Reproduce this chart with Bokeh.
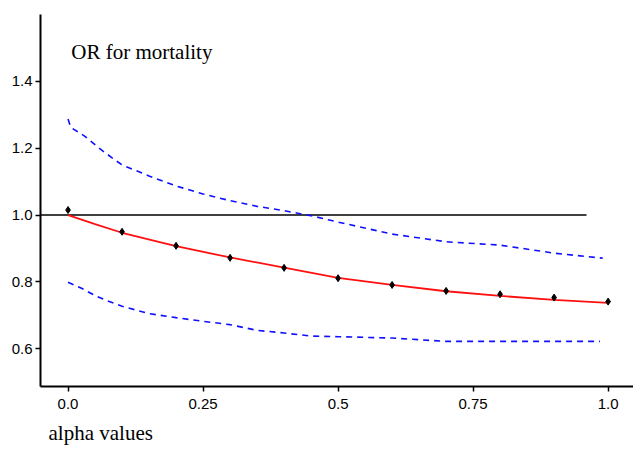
from bokeh.plotting import figure
from bokeh.models import Range1d, FixedTicker, Label, Title
from bokeh.embed import file_html
from bokeh.resources import INLINE

alpha = [0.0, 0.1, 0.2, 0.3, 0.4, 0.5, 0.6, 0.7, 0.8, 0.9, 1.0]
or_points = [1.015, 0.950, 0.908, 0.872, 0.842, 0.811, 0.791, 0.773, 0.763, 0.753, 0.741]
fit_x = [0.0, 0.05, 0.1, 0.2, 0.3, 0.4, 0.5, 0.6, 0.7, 0.8, 0.9, 1.0]
or_fit = [1.000, 0.973, 0.947, 0.907, 0.873, 0.843, 0.812, 0.791, 0.772, 0.758, 0.746, 0.737]
upper_x = [0.0, 0.005, 0.03, 0.06, 0.085, 0.1, 0.15, 0.2, 0.25, 0.3, 0.35, 0.4, 0.45, 0.5,
           0.6, 0.7, 0.8, 0.9, 0.99]
upper_ci = [1.287, 1.262, 1.237, 1.197, 1.167, 1.150, 1.117, 1.087, 1.063, 1.043, 1.026, 1.013,
            0.998, 0.979, 0.943, 0.920, 0.910, 0.886, 0.871]
lower_x = [0.0, 0.025, 0.05, 0.075, 0.1, 0.15, 0.2, 0.25, 0.3, 0.35, 0.4, 0.45, 0.5, 0.6,
           0.7, 0.8, 0.9, 0.985]
lower_ci = [0.799, 0.781, 0.759, 0.742, 0.727, 0.705, 0.693, 0.682, 0.672, 0.655, 0.647, 0.638,
            0.636, 0.632, 0.622, 0.622, 0.622, 0.622]
ref_x = [-0.051, 0.96]
ref_y = [1.0, 1.0]
x_ticks = [0.0, 0.25, 0.5, 0.75, 1.0]
x_tick_labels = ["0.0", "0.25", "0.5", "0.75", "1.0"]
y_ticks = [0.6, 0.8, 1.0, 1.2, 1.4]
y_tick_labels = ["0.6", "0.8", "1.0", "1.2", "1.4"]
title_text = "OR for mortality"
xlabel_text = "alpha values"

p = figure(width=633, height=452, output_backend="svg", toolbar_location=None,
           x_range=Range1d(-0.051, 1.047), y_range=Range1d(0.487, 1.6),
           min_border_left=40, min_border_right=0, min_border_top=14, min_border_bottom=65)
p.outline_line_color = None
p.xgrid.visible = False
p.ygrid.visible = False
p.background_fill_color = "white"

for ax in (p.xaxis[0], p.yaxis[0]):
    ax.axis_line_width = 2
    ax.axis_line_color = "black"
    ax.major_tick_line_color = "black"
    ax.major_tick_line_width = 1.5
    ax.major_tick_in = 0
    ax.major_tick_out = 5
    ax.minor_tick_line_color = None
    ax.major_label_text_font = "Liberation Sans"
    ax.major_label_text_font_size = "15px"
    ax.major_label_text_color = "black"

p.xaxis.ticker = FixedTicker(ticks=x_ticks)
p.xaxis.major_label_overrides = dict(zip(x_ticks, x_tick_labels))
p.xaxis.major_label_standoff = 7
p.yaxis.ticker = FixedTicker(ticks=y_ticks)
p.yaxis.major_label_overrides = dict(zip(y_ticks, y_tick_labels))
p.yaxis.major_label_standoff = 3

p.line(ref_x, ref_y, line_color="black", line_width=1.5)
p.line(upper_x, upper_ci, line_color="#1010ff", line_width=1.6, line_dash="6 5")
p.line(lower_x, lower_ci, line_color="#1010ff", line_width=1.6, line_dash="6 5")
p.line(fit_x, or_fit, line_color="#ff1010", line_width=1.8)
p.scatter(alpha, or_points, marker="diamond", size=7, fill_color="black", line_color="black")

p.add_layout(Label(x=0.006, y=1.487, text=title_text, text_font="Liberation Serif",
                   text_font_size="21px", text_color="black", text_baseline="alphabetic"))
p.add_layout(Title(text=xlabel_text, align="left", offset=8, standoff=15,
                   text_font="Liberation Serif", text_font_size="21px",
                   text_font_style="normal", text_color="black"), "below")

open("out.html", "w").write(file_html(p, INLINE))
